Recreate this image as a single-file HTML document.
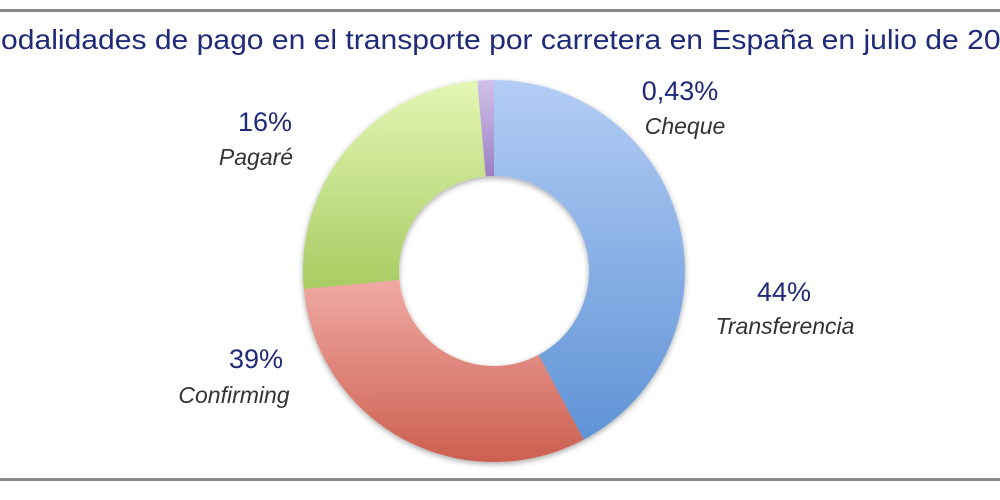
<!DOCTYPE html>
<html><head><meta charset="utf-8"><style>
html,body{margin:0;padding:0;background:#fff;width:1000px;height:500px;overflow:hidden}
</style></head><body>
<svg width="1000" height="500" xmlns="http://www.w3.org/2000/svg" style="font-family:'Liberation Sans',sans-serif">
<defs>
<linearGradient id="gb" x1="0" y1="0" x2="0" y2="1"><stop offset="0" stop-color="#b3cdf5"/><stop offset="1" stop-color="#5f93d6"/></linearGradient>
<linearGradient id="gr" x1="0" y1="0" x2="0" y2="1"><stop offset="0" stop-color="#f0aaa3"/><stop offset="1" stop-color="#cc5f50"/></linearGradient>
<linearGradient id="gg" x1="0" y1="0" x2="0" y2="1"><stop offset="0" stop-color="#e4f6b4"/><stop offset="1" stop-color="#a8cc62"/></linearGradient>
<linearGradient id="gp" x1="0" y1="0" x2="0" y2="1"><stop offset="0" stop-color="#d2c1ea"/><stop offset="1" stop-color="#9b80c4"/></linearGradient>
<filter id="sh" x="-10%" y="-10%" width="120%" height="120%"><feDropShadow dx="0" dy="2" stdDeviation="3" flood-color="#000" flood-opacity="0.35"/></filter>
</defs>
<rect x="0" y="9" width="1000" height="3" fill="#888"/>
<rect x="0" y="478" width="1000" height="3" fill="#888"/>
<text x="-24" y="49" font-size="28" fill="#1f2a78" textLength="1058" lengthAdjust="spacingAndGlyphs">Modalidades de pago en el transporte por carretera en España en julio de 2015</text>
<g filter="url(#sh)">
<path d="M494,80 A191,191 0 0 1 583.7,439.6 L538.6,354.9 A95,95 0 0 0 494,176 Z" fill="url(#gb)"/>
<path d="M583.7,439.6 A191,191 0 0 1 303.8,289 L399.4,279.9 A95,95 0 0 0 538.6,354.9 Z" fill="url(#gr)"/>
<path d="M303.8,289 A191,191 0 0 1 477.3,80.7 L485.7,176.4 A95,95 0 0 0 399.4,279.9 Z" fill="url(#gg)"/>
<path d="M477.3,80.7 A191,191 0 0 1 494,80 L494,176 A95,95 0 0 0 485.7,176.4 Z" fill="url(#gp)"/>
</g>
<g font-size="27" fill="#1f2a78" text-anchor="middle">
<text x="680" y="100">0,43%</text>
<text x="265" y="131">16%</text>
<text x="784" y="301">44%</text>
<text x="256" y="368">39%</text>
</g>
<g font-size="23" fill="#333" font-style="italic" text-anchor="middle">
<text x="685" y="134">Cheque</text>
<text x="256" y="165">Pagaré</text>
<text x="785" y="334">Transferencia</text>
<text x="234" y="403">Confirming</text>
</g>
</svg>
</body></html>
